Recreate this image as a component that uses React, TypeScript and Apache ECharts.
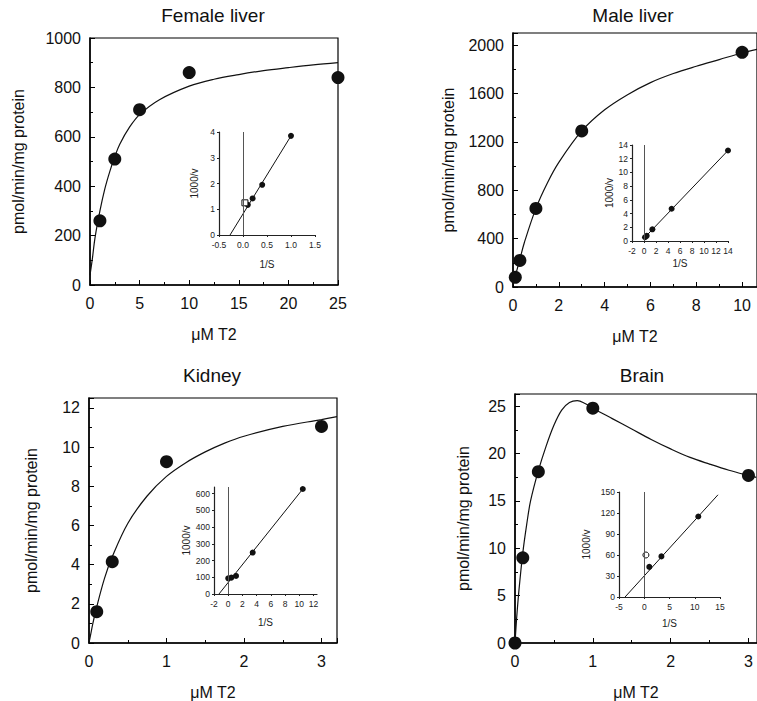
import React, { useEffect, useRef } from "react";
import * as echarts from "echarts";

const FONT = "'Liberation Sans', Arial, Helvetica, sans-serif";

const titles = ["Female liver", "Male liver", "Kidney", "Brain"];
const xAxisName = "μM T2";
const yAxisName = "pmol/min/mg protein";
const insetYName = "1000/v";
const insetXName = "1/S";

// Female liver
const femaleS = [1, 2.5, 5, 10, 25];
const femaleV = [260, 510, 710, 860, 840];
const femaleCurveS = [0, 0.25, 0.5, 1, 1.5, 2, 2.5, 3, 4, 5, 7, 10, 12.5, 15, 17.5, 20, 22.5, 25];
const femaleCurveV = [40, 110, 190, 300, 390, 460, 520, 570, 640, 690, 750, 805, 833, 852, 868, 880, 891, 900];
const femaleInS = [0.1, 0.2, 0.4, 1.0];
const femaleInV = [1.17, 1.42, 1.95, 3.85];
const femaleInOpenS = [0.04];
const femaleInOpenV = [1.25];
const femaleFitS = [-0.27, 1.0];
const femaleFitV = [0, 3.85];

// Male liver
const maleS = [0.1, 0.3, 1, 3, 10];
const maleV = [80, 220, 650, 1290, 1940];
const maleCurveS = [0, 0.1, 0.3, 0.5, 1, 1.5, 2, 3, 4, 5, 6, 7, 8, 9, 10, 10.65];
const maleCurveV = [20, 90, 230, 370, 650, 860, 1030, 1290, 1465, 1590, 1690, 1765, 1825, 1880, 1935, 1965];
const maleInS = [0.17, 0.45, 1.4, 4.6, 14];
const maleInV = [0.55, 0.75, 1.7, 4.7, 13.2];
const maleFitS = [0, 14];
const maleFitV = [0.4, 13.2];

// Kidney
const kidneyS = [0.1, 0.3, 1, 3];
const kidneyV = [1.6, 4.15, 9.25, 11.05];
const kidneyCurveS = [0, 0.02, 0.05, 0.1, 0.2, 0.3, 0.5, 0.75, 1, 1.25, 1.5, 1.75, 2, 2.5, 3, 3.2];
const kidneyCurveV = [0, 0.4, 1.0, 1.85, 3.3, 4.4, 6.1, 7.5, 8.5, 9.2, 9.75, 10.2, 10.55, 11.05, 11.4, 11.55];
const kidneyInS = [0, 0.45, 1.1, 3.45, 10.5];
const kidneyInV = [94, 98, 108, 248, 628];
const kidneyFitS = [-1.3, 10.5];
const kidneyFitV = [0, 628];

// Brain
const brainS = [0, 0.1, 0.3, 1, 3];
const brainV = [0, 9, 18.1, 24.8, 17.7];
const brainCurveS = [0, 0.02, 0.05, 0.1, 0.15, 0.2, 0.3, 0.4, 0.5, 0.6, 0.7, 0.8, 0.9, 1.0, 1.25, 1.5, 1.75, 2, 2.25, 2.5, 2.75, 3, 3.1];
const brainCurveV = [0, 2.5, 5.5, 9.5, 12.5, 15, 18.2, 20.8, 23, 24.6, 25.4, 25.6, 25.3, 24.8, 23.7, 22.6, 21.5, 20.5, 19.6, 18.9, 18.25, 17.7, 17.5];
const brainInS = [1.0, 3.4, 10.7];
const brainInV = [43, 58, 115];
const brainInOpenS = [0.33];
const brainInOpenV = [60];
const brainFitS = [-3.8, 14.6];
const brainFitV = [0, 146];

const zip = (a: number[], b: number[]) => a.map((v, i) => [v, b[i]]);
const isMultiple = (max: number, step: number) => Math.abs(max / step - Math.round(max / step)) < 1e-9;

const mainPanels = [
  {
    title: titles[0], tx: 213, ty: 15,
    box: { left: 90, top: 38, width: 248, height: 247 },
    x: { min: 0, max: 25, interval: 5 }, y: { min: 0, max: 1000, interval: 200 },
    xGap: 41, yGap: 64,
    pts: zip(femaleS, femaleV), curve: zip(femaleCurveS, femaleCurveV),
  },
  {
    title: titles[1], tx: 633, ty: 15,
    box: { left: 513, top: 33, width: 244, height: 254 },
    x: { min: 0, max: 10.65, interval: 2 }, y: { min: 0, max: 2100, interval: 400 },
    xGap: 41, yGap: 57,
    pts: zip(maleS, maleV), curve: zip(maleCurveS, maleCurveV),
  },
  {
    title: titles[2], tx: 212, ty: 375,
    box: { left: 89, top: 398, width: 248, height: 247 },
    x: { min: 0, max: 3.2, interval: 1 }, y: { min: 0, max: 12.5, interval: 2 },
    xGap: 41, yGap: 50,
    pts: zip(kidneyS, kidneyV), curve: zip(kidneyCurveS, kidneyCurveV),
  },
  {
    title: titles[3], tx: 642, ty: 375,
    box: { left: 515, top: 394, width: 242, height: 249 },
    x: { min: 0, max: 3.11, interval: 1 }, y: { min: 0, max: 26.3, interval: 5 },
    xGap: 41, yGap: 44,
    pts: zip(brainS, brainV), curve: zip(brainCurveS, brainCurveV),
  },
];

const insetPanels = [
  {
    box: { left: 219, top: 132, width: 96, height: 103 },
    x: { min: -0.5, max: 1.5, interval: 0.5 }, y: { min: 0, max: 4, interval: 1 },
    xGap: 24, yGap: 20, fmt: (v: number) => v.toFixed(1),
    pts: zip(femaleInS, femaleInV), open: zip(femaleInOpenS, femaleInOpenV), openSym: "rect",
    fit: zip(femaleFitS, femaleFitV),
  },
  {
    box: { left: 632, top: 145, width: 96, height: 96 },
    x: { min: -2, max: 14, interval: 2 }, y: { min: 0, max: 14, interval: 2 },
    xGap: 17, yGap: 14, fmt: (v: number) => String(v),
    pts: zip(maleInS, maleInV), open: [], openSym: "circle",
    fit: zip(maleFitS, maleFitV),
  },
  {
    box: { left: 214, top: 487, width: 103, height: 107 },
    x: { min: -2, max: 12.5, interval: 2 }, y: { min: 0, max: 640, interval: 100 },
    xGap: 23, yGap: 15, fmt: (v: number) => String(v),
    pts: zip(kidneyInS, kidneyInV), open: [], openSym: "circle",
    fit: zip(kidneyFitS, kidneyFitV),
  },
  {
    box: { left: 619, top: 492, width: 101, height: 105 },
    x: { min: -5, max: 15, interval: 5 }, y: { min: 0, max: 150, interval: 30 },
    xGap: 21, yGap: 28, fmt: (v: number) => String(v),
    pts: zip(brainInS, brainInV), open: zip(brainInOpenS, brainInOpenV), openSym: "circle",
    fit: zip(brainFitS, brainFitV),
  },
];

function buildOption() {
  const grid: any[] = [];
  const xAxis: any[] = [];
  const yAxis: any[] = [];
  const series: any[] = [];
  const graphic: any[] = [];

  mainPanels.forEach((p) => {
    const gi = grid.length;
    grid.push({ ...p.box, show: true, borderColor: "#000", borderWidth: 1.2, backgroundColor: "transparent" });
    const common = {
      gridIndex: gi,
      type: "value",
      axisLine: { show: true, lineStyle: { color: "#000", width: 1.5 } },
      axisTick: { show: true, inside: true, length: 5, lineStyle: { color: "#000" } },
      minorTick: { show: true, splitNumber: 2, length: 3, lineStyle: { color: "#000" } },
      splitLine: { show: false },
      nameLocation: "middle",
      nameTextStyle: { fontFamily: FONT, fontSize: 16, color: "#111" },
    };
    xAxis.push({
      ...common,
      min: p.x.min, max: p.x.max, interval: p.x.interval,
      name: xAxisName, nameGap: p.xGap,
      axisLabel: {
        fontFamily: FONT, fontSize: 16, color: "#111", margin: 10,
        formatter: (v: number) => String(v), showMaxLabel: isMultiple(p.x.max, p.x.interval),
      },
    });
    yAxis.push({
      ...common,
      min: p.y.min, max: p.y.max, interval: p.y.interval,
      name: yAxisName, nameGap: p.yGap,
      axisLabel: {
        fontFamily: FONT, fontSize: 16, color: "#111", margin: 9,
        formatter: (v: number) => String(v), showMaxLabel: isMultiple(p.y.max, p.y.interval),
      },
    });
    series.push({
      type: "line", xAxisIndex: gi, yAxisIndex: gi, data: p.curve,
      showSymbol: false, symbol: "none", smooth: 0.35,
      lineStyle: { color: "#111", width: 1.2 }, z: 2,
    });
    series.push({
      type: "scatter", xAxisIndex: gi, yAxisIndex: gi, data: p.pts,
      symbol: "circle", symbolSize: 13, itemStyle: { color: "#111", opacity: 1 }, z: 3,
    });
    graphic.push({
      type: "text", x: p.tx, y: p.ty,
      style: { text: p.title, fontFamily: FONT, fontSize: 19, fill: "#111", align: "center", verticalAlign: "middle" },
    });
  });

  insetPanels.forEach((p) => {
    const gi = grid.length;
    grid.push({ ...p.box, show: false });
    const common = {
      gridIndex: gi,
      type: "value",
      axisLine: { show: true, onZero: false, lineStyle: { color: "#222", width: 1.2 } },
      axisTick: { show: true, inside: false, length: 2, lineStyle: { color: "#222" } },
      splitLine: { show: false },
      nameLocation: "middle",
      nameTextStyle: { fontFamily: FONT, fontSize: 10, color: "#222" },
    };
    xAxis.push({
      ...common,
      min: p.x.min, max: p.x.max, interval: p.x.interval,
      name: insetXName, nameGap: p.xGap,
      axisLabel: {
        fontFamily: FONT, fontSize: 8.5, color: "#222", margin: 5,
        formatter: p.fmt, showMaxLabel: isMultiple(p.x.max, p.x.interval),
      },
    });
    yAxis.push({
      ...common,
      min: p.y.min, max: p.y.max, interval: p.y.interval,
      name: insetYName, nameGap: p.yGap,
      axisLabel: {
        fontFamily: FONT, fontSize: 8.5, color: "#222", margin: 4,
        showMaxLabel: isMultiple(p.y.max, p.y.interval),
      },
    });
    series.push({
      type: "line", xAxisIndex: gi, yAxisIndex: gi, data: p.fit,
      showSymbol: false, symbol: "none",
      lineStyle: { color: "#111", width: 1 }, z: 2,
      markLine: {
        silent: true, symbol: "none", label: { show: false },
        lineStyle: { color: "#555", type: "solid", width: 1 },
        data: [{ xAxis: 0 }],
      },
    });
    series.push({
      type: "scatter", xAxisIndex: gi, yAxisIndex: gi, data: p.pts,
      symbol: "circle", symbolSize: 6, itemStyle: { color: "#111", opacity: 1 }, z: 3,
    });
    if (p.open.length) {
      series.push({
        type: "scatter", xAxisIndex: gi, yAxisIndex: gi, data: p.open,
        symbol: p.openSym, symbolSize: 6,
        itemStyle: { color: "#fff", borderColor: "#111", borderWidth: 1, opacity: 1 }, z: 4,
      });
    }
  });

  return {
    animation: false,
    backgroundColor: "#fff",
    textStyle: { fontFamily: FONT },
    grid, xAxis, yAxis, series, graphic,
  };
}

export default function App() {
  const ref = useRef<HTMLDivElement>(null);
  useEffect(() => {
    if (!ref.current) return;
    const chart = echarts.init(ref.current, undefined, { renderer: "svg" });
    chart.setOption(buildOption() as any);
    return () => chart.dispose();
  }, []);
  return (
    <div
      ref={ref}
      style={{ position: "absolute", left: 0, top: 0, width: 757, height: 701, background: "#fff" }}
    />
  );
}
